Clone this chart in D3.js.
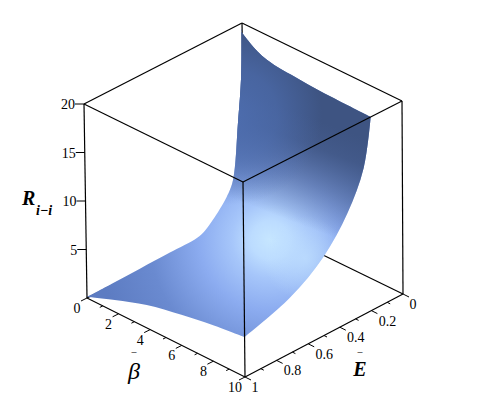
<!DOCTYPE html>
<html>
<head>
<meta charset="utf-8">
<script src="https://cdn.jsdelivr.net/npm/d3@7"></script>
<style>
body { margin: 0; background: #fff; }
text { font-family: "Liberation Serif", serif; fill: #000; }
</style>
</head>
<body>
<div id="chart"></div>
<script>
// tick values
const betaTicks = [0, 2, 4, 6, 8, 10]
const betaMinor = [1, 3, 5, 7, 9]
const eTicks = [0, 0.2, 0.4, 0.6, 0.8, 1]
const eMinor = [0.1, 0.3, 0.5, 0.7, 0.9]
const rTicks = [5, 10, 15, 20]

// outline of the surface, as [beta, E, R]
const edgeNearE = [[0, 1, 0.1], [1.77, 1, 1.24], [3.8, 1, 2.37], [6, 1, 3.15], [7.97, 1, 3.7], [10, 1, 4.1]]
const edgeNearBeta = [[10, 0.713, 5.7], [10, 0.5, 8.1], [10, 0.347, 11.3], [10, 0.243, 15.1], [10, 0.197, 20]]
const edgeTop = [[7.6, 0.192, 20], [5.4, 0.18, 20], [3.1, 0.156, 20], [1.5, 0.101, 20], [0.41, 0.048, 20]]
const edgeFar = [[0, 0.004, 19.4], [0, 0.011, 14.5], [0, 0.035, 10], [0, 0.072, 4.4], [0, 0.114, 3], [0, 0.203, 1.38], [0, 0.253, 0.7], [0, 0.304, 0.37], [0, 0.475, 0.3], [0, 0.665, 0.23], [0, 0.84, 0.15]]

const width = 488
const height = 400

// screen corners of the box, slight perspective so the floor and the lid differ
const floor = { b0e1: [87, 298], b10e1: [245, 377], b10e0: [403, 294], b0e0: [245, 217] }
const lid = { b0e1: [84, 104], b10e1: [243, 182], b10e0: [402, 101], b0e0: [242, 23] }

const svg = d3.select("#chart").append("svg").attr("width", width).attr("height", height)

const nb = d3.scaleLinear().domain([0, 10]).range([0, 1])
const ne = d3.scaleLinear().domain([1, 0]).range([0, 1])
const nz = d3.scaleLinear().domain([0, 20]).range([0, 1])

const corner = (c, b, e, i) => {
    const u = nb(b), v = ne(e)
    return (1 - u) * (1 - v) * c.b0e1[i] + u * (1 - v) * c.b10e1[i] + u * v * c.b10e0[i] + (1 - u) * v * c.b0e0[i]
}
const pt = (b, e, r) => {
    const t = nz(r)
    return [0, 1].map(i => (1 - t) * corner(floor, b, e, i) + t * corner(lid, b, e, i))
}

const defs = svg.append("defs")

const outline = d3.line().x(d => pt(...d)[0]).y(d => pt(...d)[1]).curve(d3.curveCatmullRom)
const surfaceD = outline(edgeNearE) + outline([edgeNearE[5]].concat(edgeNearBeta)).replace("M", "L")
    + outline([edgeNearBeta[4]].concat(edgeTop, [edgeFar[0]])).replace("M", "L")
    + outline(edgeFar.concat([edgeNearE[0]])).replace("M", "L") + "Z"

defs.append("clipPath").attr("id", "surfClip").append("path").attr("d", surfaceD)

const light = defs.append("radialGradient").attr("id", "light")
    .attr("gradientUnits", "userSpaceOnUse").attr("cx", 270).attr("cy", 240).attr("r", 190)
light.selectAll("stop").data([[0, "#c6e6ff"], [0.1, "#bcdcff"], [0.2, "#a6c6fa"], [0.37, "#8cacf0"], [0.63, "#6a8ad0"], [0.9, "#5d7cc2"]]).enter().append("stop")
    .attr("offset", d => d[0]).attr("stop-color", d => d[1])

// the highlight runs out to the right hand edge
const glow = defs.append("radialGradient").attr("id", "glow")
    .attr("gradientUnits", "userSpaceOnUse").attr("cx", 305).attr("cy", 258).attr("r", 42)
glow.selectAll("stop").data([[0, 0.75], [1, 0]]).enter().append("stop")
    .attr("offset", d => d[0]).attr("stop-color", "#c0e0ff").attr("stop-opacity", d => d[1])

const dark = defs.append("linearGradient").attr("id", "dark")
    .attr("gradientUnits", "userSpaceOnUse").attr("x1", 275).attr("y1", 215).attr("x2", 312).attr("y2", 118)
dark.selectAll("stop").data([[0, 0], [0.4, 0.5], [0.75, 0.9], [1, 1]]).enter().append("stop")
    .attr("offset", d => d[0]).attr("stop-color", "#3e5482").attr("stop-opacity", d => d[1])

// the steep part near E = 0 stays bluer than the dark corner
const side = defs.append("radialGradient").attr("id", "side")
    .attr("gradientUnits", "userSpaceOnUse").attr("cx", 232).attr("cy", 115).attr("r", 90)
side.selectAll("stop").data([[0, 0.85], [0.5, 0.6], [1, 0]]).enter().append("stop")
    .attr("offset", d => d[0]).attr("stop-color", "#4f70b4").attr("stop-opacity", d => d[1])

const black = sel => sel.attr("stroke", "#000").attr("stroke-width", 1.2)
const drawEdges = (g, data) => g.selectAll("line").data(data).enter().append("line")
    .attr("x1", d => pt(...d[0])[0]).attr("y1", d => pt(...d[0])[1])
    .attr("x2", d => pt(...d[1])[0]).attr("y2", d => pt(...d[1])[1])
    .call(black)

// box edges behind the surface
drawEdges(svg.append("g"), [
    [[0, 1, 0], [0, 0, 0]], [[0, 0, 0], [10, 0, 0]], [[0, 0, 0], [0, 0, 20]]
])

const surf = svg.append("g").attr("clip-path", "url(#surfClip)")
const layers = ["light", "glow", "dark", "side"]
surf.selectAll("rect").data(layers).enter().append("rect")
    .attr("width", width).attr("height", height).attr("fill", d => `url(#${d})`)

// box edges in front
drawEdges(svg.append("g"), [
    [[0, 1, 0], [10, 1, 0]], [[10, 1, 0], [10, 0, 0]],
    [[0, 1, 20], [10, 1, 20]], [[10, 1, 20], [10, 0, 20]],
    [[0, 1, 20], [0, 0, 20]], [[0, 0, 20], [10, 0, 20]],
    [[0, 1, 0], [0, 1, 20]], [[10, 1, 0], [10, 1, 20]], [[10, 0, 0], [10, 0, 20]]
])

const ticks = svg.append("g").attr("stroke", "#000").attr("stroke-width", 1)
const drawTicks = (data, pos, dx, dy) => ticks.append("g").selectAll("line").data(data).enter().append("line")
    .attr("x1", d => pos(d)[0]).attr("y1", d => pos(d)[1])
    .attr("x2", d => pos(d)[0] + dx).attr("y2", d => pos(d)[1] + dy)

const betaPos = d => pt(d, 1, 0)
const ePos = d => pt(10, d, 0)
const rPos = d => pt(0, 1, d)

drawTicks(betaTicks, betaPos, -6, 3)
drawTicks(betaMinor, betaPos, -3, 1.5)
drawTicks(eTicks, ePos, 6, 3)
drawTicks(eMinor, ePos, 3, 1.5)
drawTicks(rTicks, rPos, -9, 0)

const tickLabel = (x, y, t, anchor) => svg.append("text").attr("x", x).attr("y", y)
    .attr("font-size", 14).attr("text-anchor", anchor || "middle").text(t)

betaTicks.forEach(d => tickLabel(betaPos(d)[0] - 10, betaPos(d)[1] + 15, d))
eTicks.forEach(d => {
    const end = d == 0 || d == 1
    tickLabel(ePos(d)[0] + (end ? 10 : 16), ePos(d)[1] + 15, d)
})
rTicks.forEach(d => tickLabel(rPos(d)[0] - 9, rPos(d)[1] + 5, d, "end"))

// axis titles
svg.append("text").attr("x", 22).attr("y", 205).attr("font-size", 20).attr("font-weight", "bold").attr("font-style", "italic").text("R")
svg.append("text").attr("x", 36).attr("y", 215).attr("font-size", 14).attr("font-weight", "bold").attr("font-style", "italic").text("i−i")
svg.append("text").attr("x", 134).attr("y", 379).attr("font-size", 24).attr("font-style", "italic").attr("text-anchor", "middle").text("β")
svg.append("text").attr("x", 134).attr("y", 355).attr("font-size", 10).attr("text-anchor", "middle").text("–")
svg.append("text").attr("x", 360).attr("y", 376).attr("font-size", 20).attr("font-weight", "bold").attr("font-style", "italic").attr("text-anchor", "middle").text("E")
svg.append("text").attr("x", 360).attr("y", 355).attr("font-size", 10).attr("text-anchor", "middle").text("–")
</script>
</body>
</html>
